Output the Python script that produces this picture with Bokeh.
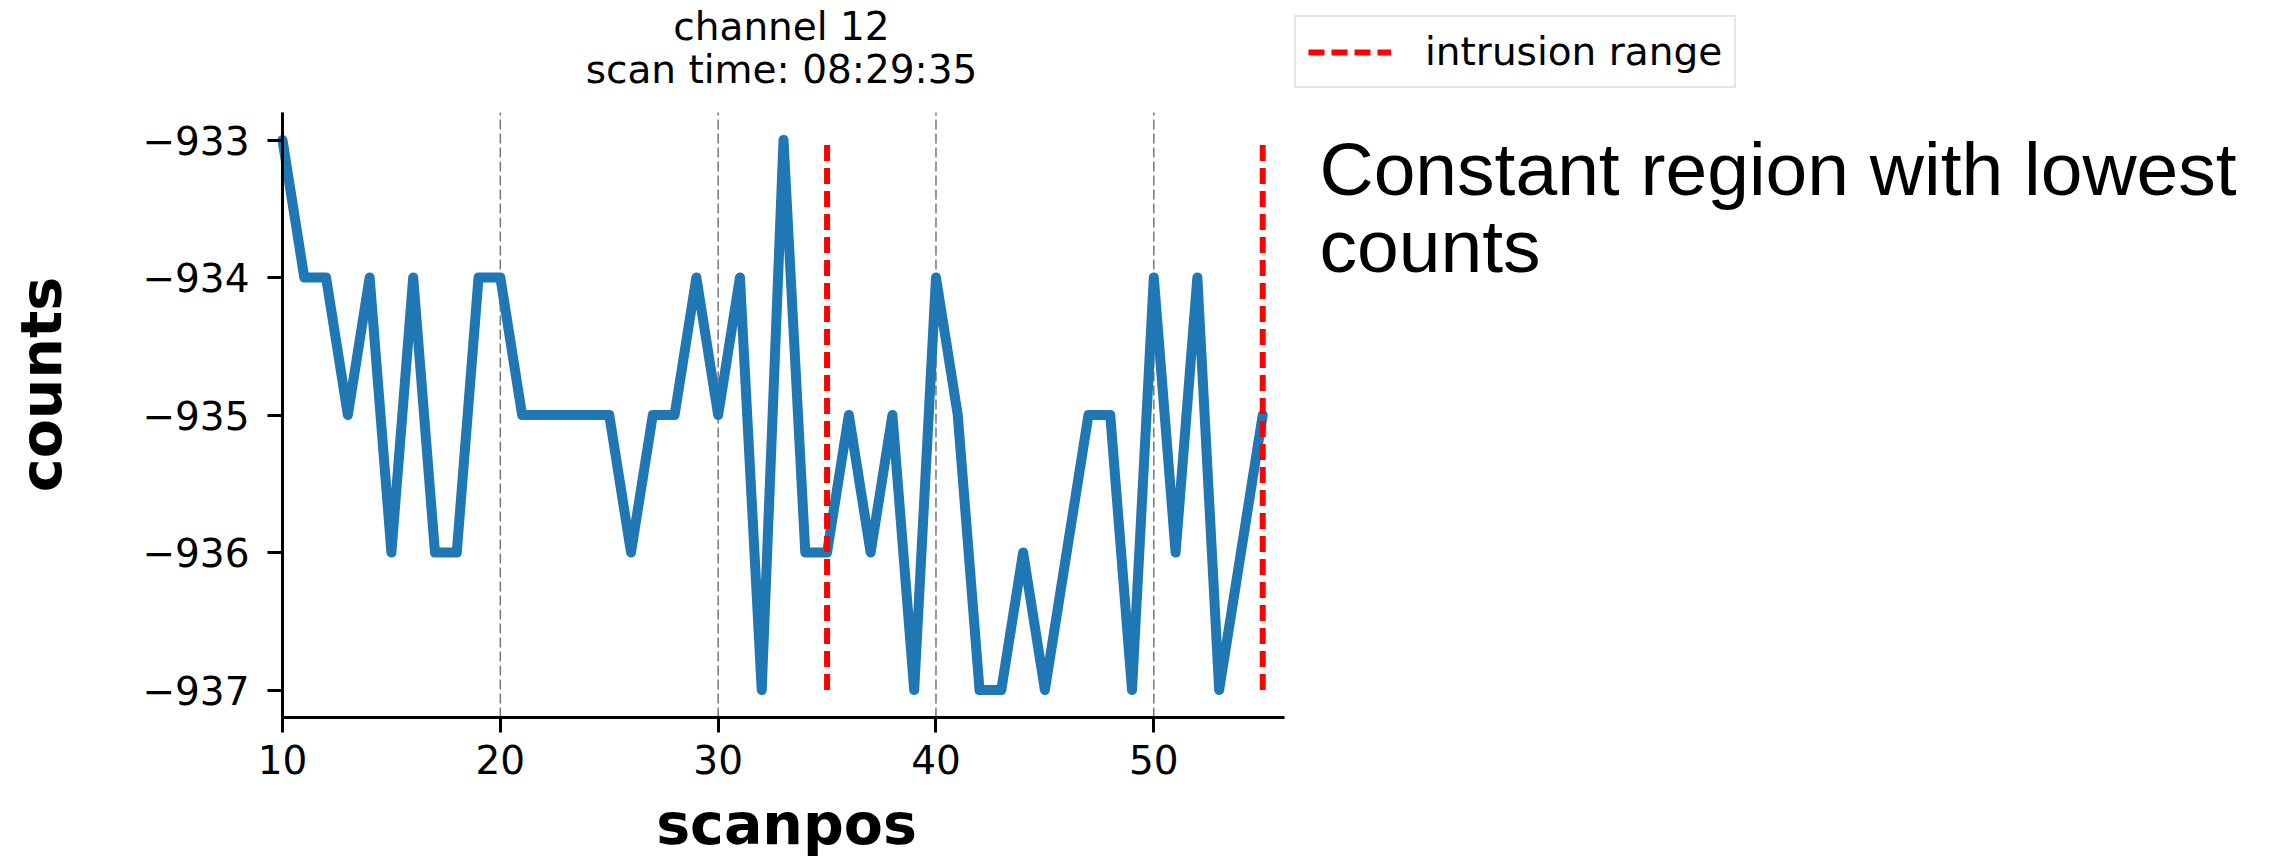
import math

from bokeh.plotting import figure
from bokeh.models import ColumnDataSource, FixedTicker, Label, Legend, LegendItem, Range1d
from bokeh.embed import file_html
from bokeh.resources import INLINE

# ---- data -------------------------------------------------------------
scanpos = list(range(10, 56))
counts = [
    -933, -934, -934, -935, -934, -936, -934, -936, -936, -934,
    -934, -935, -935, -935, -935, -935, -936, -935, -935, -934,
    -935, -934, -937, -933, -936, -936, -935, -936, -935, -937,
    -934, -935, -937, -937, -936, -937, -936, -935, -935, -937,
    -934, -936, -934, -937, -936, -935,
]
intrusion_x = [35, 55]
intrusion_low = -937
intrusion_high = -933

x_ticks = [10, 20, 30, 40, 50]
y_ticks = [-937, -936, -935, -934, -933]
y_tick_labels = ["\u2212937", "\u2212936", "\u2212935", "\u2212934", "\u2212933"]

title_lines = ["channel 12", "scan time: 08:29:35"]
note_lines = ["Constant region with lowest", "counts"]

# ---- geometry ---------------------------------------------------------
# The plot frame covers the whole canvas; the axes box is drawn inside it
# with fixed-location axes, so texts around the box stay inside the frame.
W, H = 2270, 857
BOX_LEFT, BOX_RIGHT, BOX_TOP, BOX_BOTTOM = 282, 1284, 112, 717
X_LO, X_HI = 10, 56
Y_LO, Y_HI = -937.2, -932.8

x_per_px = (X_HI - X_LO) / (BOX_RIGHT - BOX_LEFT)
y_per_px = (Y_HI - Y_LO) / (BOX_BOTTOM - BOX_TOP)
x_range = Range1d(X_LO - BOX_LEFT * x_per_px, X_HI + (W - BOX_RIGHT) * x_per_px)
y_range = Range1d(Y_LO - (H - BOX_BOTTOM) * y_per_px, Y_HI + BOX_TOP * y_per_px)

p = figure(
    width=W, height=H, title=None,
    x_range=x_range, y_range=y_range,
    output_backend="svg", toolbar_location=None, min_border=0,
)
p.outline_line_color = None
p.background_fill_color = "white"
p.border_fill_color = "white"
p.grid.visible = False

# ---- axes -------------------------------------------------------------
p.xaxis.fixed_location = Y_LO
p.yaxis.fixed_location = X_LO
p.xaxis.bounds = (X_LO, X_HI)
p.yaxis.bounds = (Y_LO, Y_HI)
p.xaxis.ticker = FixedTicker(ticks=x_ticks)
p.yaxis.ticker = FixedTicker(ticks=y_ticks)
p.yaxis.major_label_overrides = dict(zip(y_ticks, y_tick_labels))

for ax in (p.xaxis[0], p.yaxis[0]):
    ax.axis_line_width = 3
    ax.axis_line_color = "black"
    ax.major_tick_line_width = 3
    ax.major_tick_line_color = "black"
    ax.major_tick_out = 15
    ax.major_tick_in = 0
    ax.minor_tick_out = 0
    ax.minor_tick_in = 0
    ax.major_label_text_font = "DejaVu Sans"
    ax.major_label_text_font_size = "39px"
    ax.major_label_text_color = "black"
p.xaxis.major_label_standoff = 12
p.yaxis.major_label_standoff = 18

# ---- glyphs -----------------------------------------------------------
# dashed vertical grid lines at the x ticks, spanning the axes box
p.segment(
    x0=x_ticks, y0=[Y_LO] * len(x_ticks), x1=x_ticks, y1=[Y_HI] * len(x_ticks),
    line_color="#777777", line_width=1.5, line_dash="10 4",
)

src = ColumnDataSource(dict(scanpos=scanpos, counts=counts))
p.line(x="scanpos", y="counts", source=src, line_color="#1f77b4",
       line_width=10, line_join="round", line_cap="round")

bounds = p.segment(
    x0=intrusion_x, y0=[intrusion_low] * len(intrusion_x),
    x1=intrusion_x, y1=[intrusion_high] * len(intrusion_x),
    line_color="red", line_width=6, line_dash="16 7",
)

# ---- legend -----------------------------------------------------------
legend = Legend(
    items=[LegendItem(label="intrusion range", renderers=[bounds])],
    location=(1294, H - 88),
    label_text_font="DejaVu Sans", label_text_font_size="39px",
    label_text_color="black",
    label_standoff=34, glyph_width=83, glyph_height=38,
    padding=12, spacing=0, margin=0,
    border_line_color="#cccccc", border_line_width=2,
    background_fill_color="white", background_fill_alpha=0.8,
)
p.add_layout(legend)

# ---- texts (canvas pixels, measured from the top-left corner) ----------
# the anchor sits at the middle of the text line, about 0.35 em above its baseline
def label(text, x, baseline, size, font="DejaVu Sans", align="left", style="normal",
          angle=0.0):
    lift = 0.35 * size
    if angle:
        x, y = x - lift, baseline
    else:
        x, y = x, baseline - lift
    p.add_layout(Label(
        x=x, y=H - y, x_units="screen", y_units="screen", text=text,
        text_font=font, text_font_size=f"{size}px", text_font_style=style,
        text_align=align, text_baseline="alphabetic", text_color="black",
        angle=angle,
    ))

label(title_lines[0], 781, 40, 39, align="center")
label(title_lines[1], 781, 83, 39, align="center")

label("scanpos", 786, 843, 57, align="center", style="bold")
label("counts", 60, 384, 57, align="center", style="bold", angle=math.pi / 2)

label(note_lines[0], 1319, 195, 75, font="Liberation Sans")
label(note_lines[1], 1319, 272, 75, font="Liberation Sans")

open("out.html", "w").write(file_html(p, INLINE))
